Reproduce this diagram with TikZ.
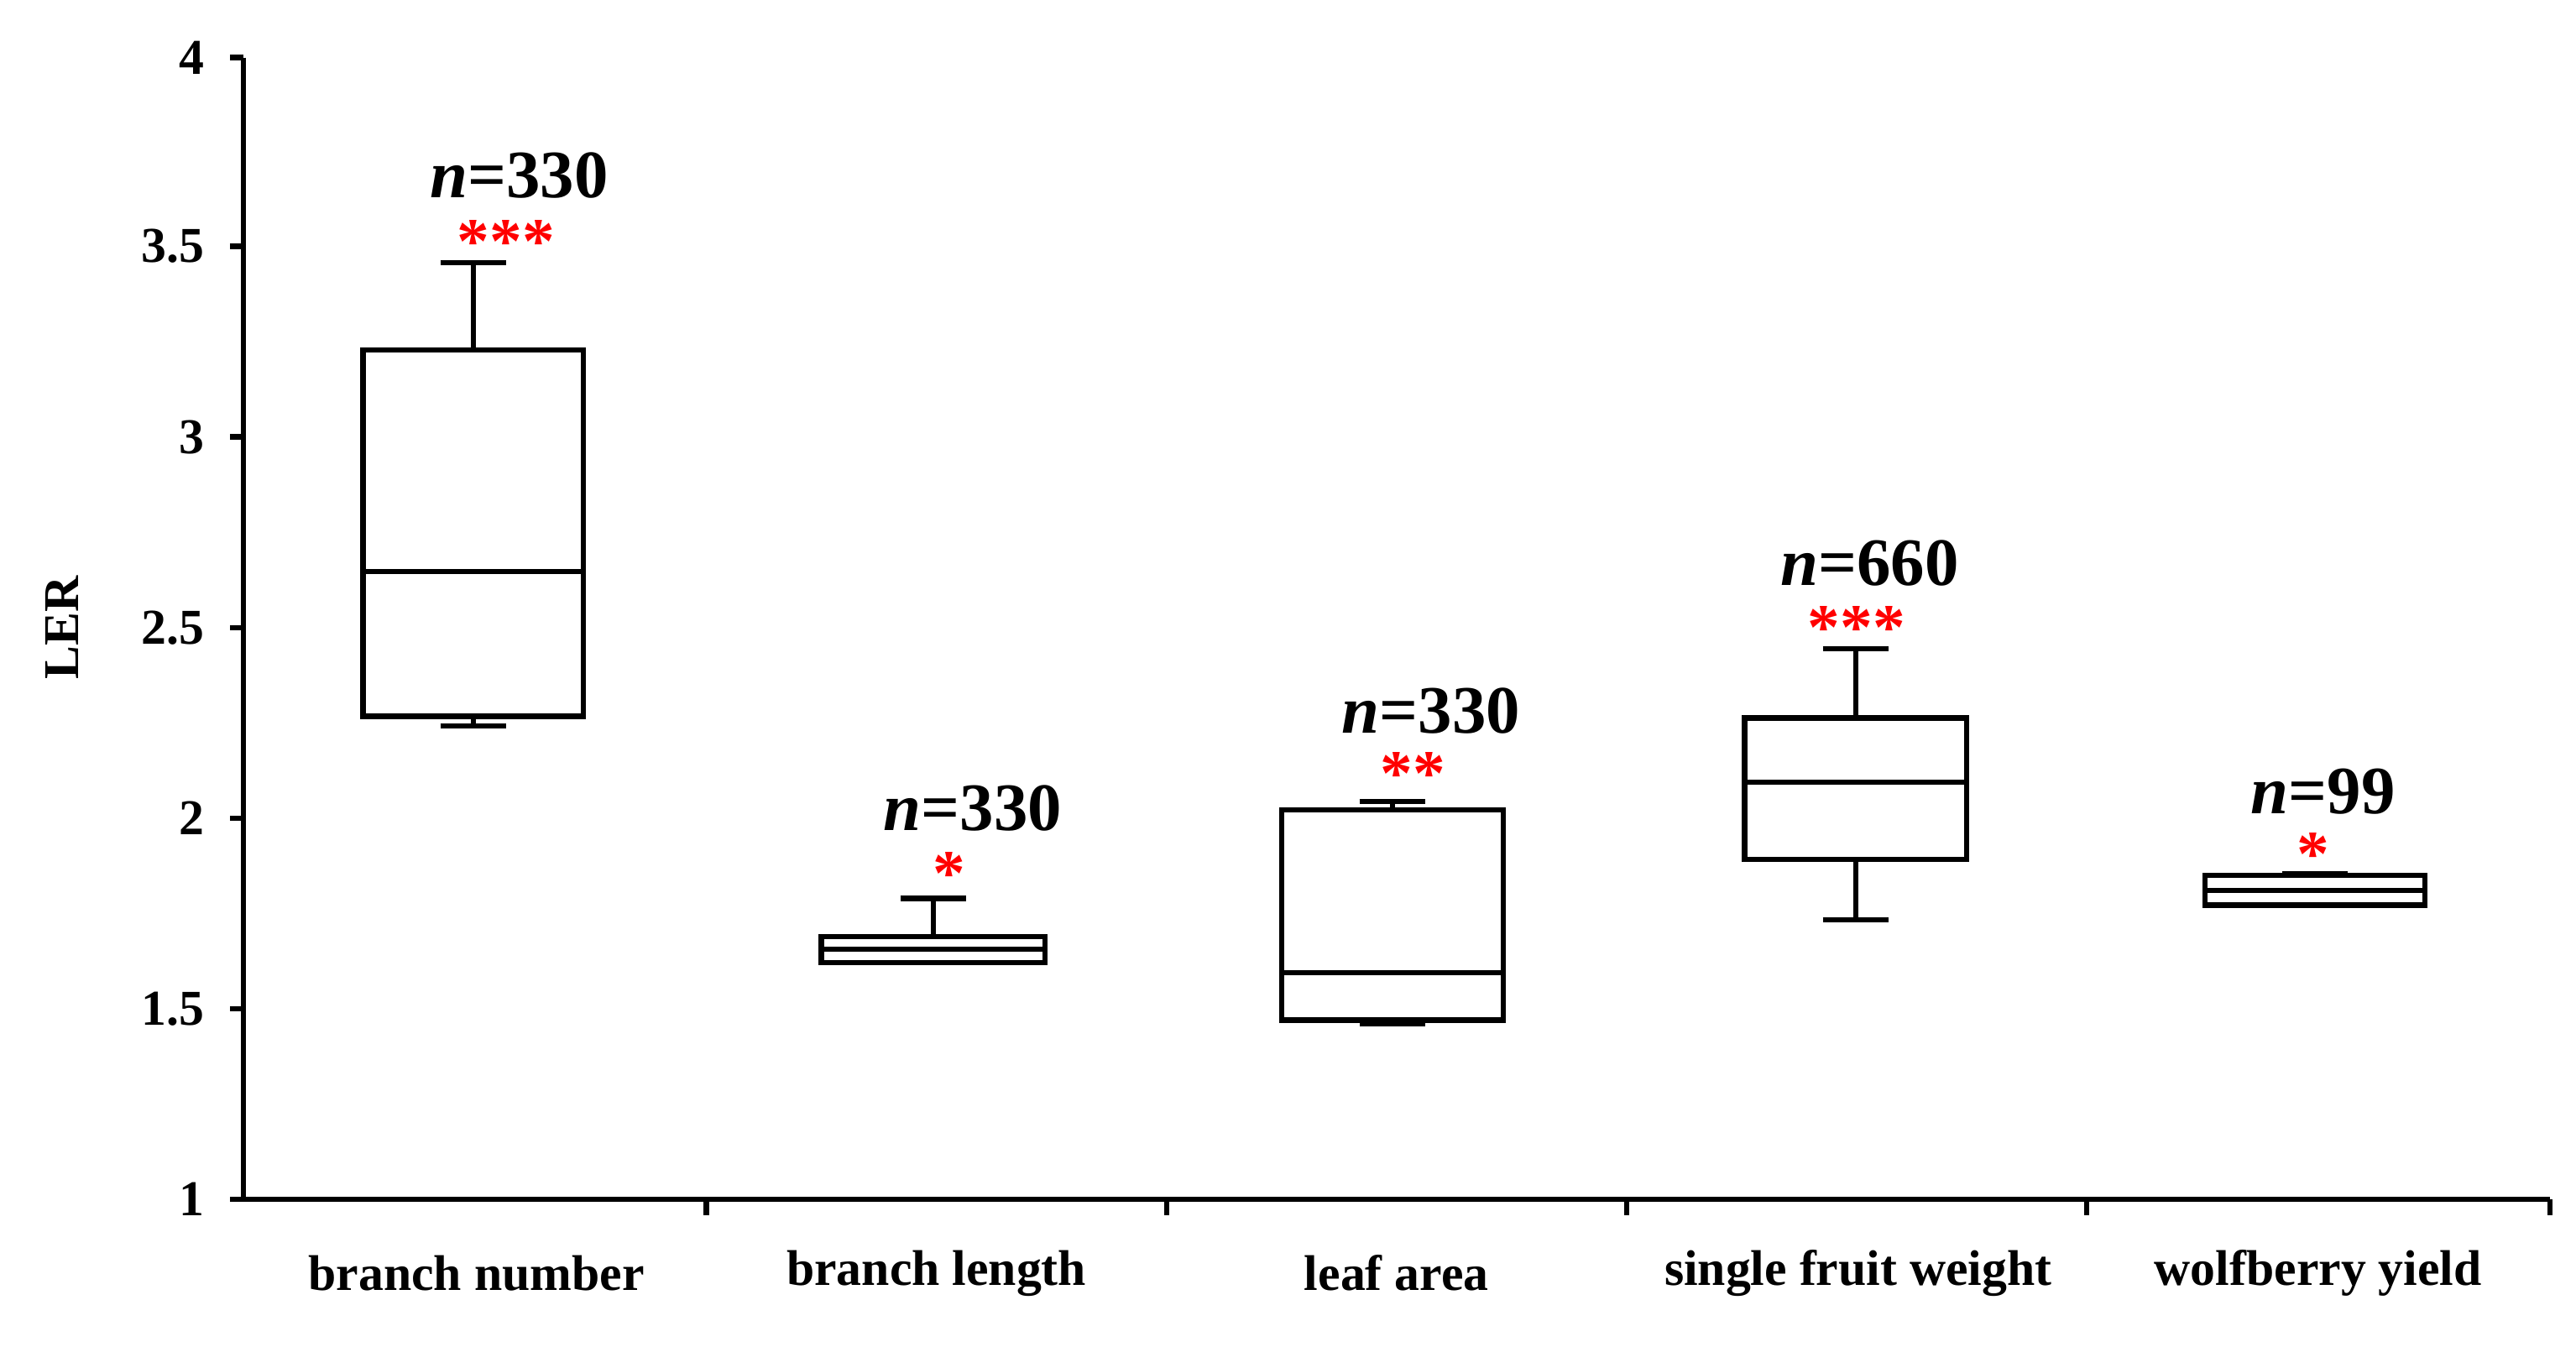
\documentclass[tikz,border=0pt]{standalone}
\usepackage{fontspec}
\setmainfont{Liberation Serif}
\begin{document}
\begin{tikzpicture}[x=0.01957cm,y=-0.01957cm,line width=1.8pt,
  tl/.style={font=\bfseries\fontsize{17}{20}\selectfont},
  nl/.style={font=\bfseries\fontsize{23}{26}\selectfont},
  st/.style={font=\bfseries\fontsize{22}{24}\selectfont,text=red}]
\useasboundingbox (0,0) rectangle (1568,820);
\draw (148,35) coordinate (ytop) -- (148,730) coordinate (orig) -- (1552,730) coordinate (xend);
\foreach \v/\yy in {1/730,1.5/614,2/498,2.5/382,3/266,3.5/150,4/35}{
  \draw (140,\yy) -- (148,\yy);
  \node[tl,anchor=east] (t\v) at (132,\yy) {\v};}
\foreach \xx in {430,710,990,1270,1552}{\draw (\xx,730) -- (\xx,740);}
\node[tl,rotate=90] (ler) at (38,382) {LER};
\foreach \c/\t [count=\i] in {290/branch number,570/branch length,850/leaf area,1131/single fruit weight,1411/wolfberry yield}
  \node[tl] (c\i) at (\c,775) {\t};
% boxes: xl, xr, whisker top, box top, median, box bottom, whisker bottom
\foreach \xl/\xr/\wt/\bt/\md/\bb/\wb [count=\i] in {
  221/355/160/213/348/436/442,
  500/636/547/570/578/586/586,
  780/915/488/493/592/621/623,
  1062/1197/395/437/476/523/560,
  1342/1476/532/533/542/551/551}{
  \pgfmathsetmacro{\xm}{(\xl+\xr)/2}
  \draw (\xm,\wt) -- (\xm,\bt);
  \draw (\xm,\bb) -- (\xm,\wb);
  \draw (\xm-20,\wt) -- (\xm+20,\wt);
  \draw (\xm-20,\wb) -- (\xm+20,\wb);
  \draw (\xl,\bt) rectangle (\xr,\bb);
  \draw (\xl,\md) -- (\xr,\md);
}
\node[nl] (n1) at (316,107) {\textit{n}=330};
\node[st] (s1) at (308,147) {***};
\node[nl] (n2) at (592,492) {\textit{n}=330};
\node[st] (s2) at (578,532) {*};
\node[nl] (n3) at (871,433) {\textit{n}=330};
\node[st] (s3) at (860,471) {**};
\node[nl] (n4) at (1138,343) {\textit{n}=660};
\node[st] (s4) at (1130,382) {***};
\node[nl] (n5) at (1414,482) {\textit{n}=99};
\node[st] (s5) at (1408,520) {*};
\end{tikzpicture}
\end{document}
